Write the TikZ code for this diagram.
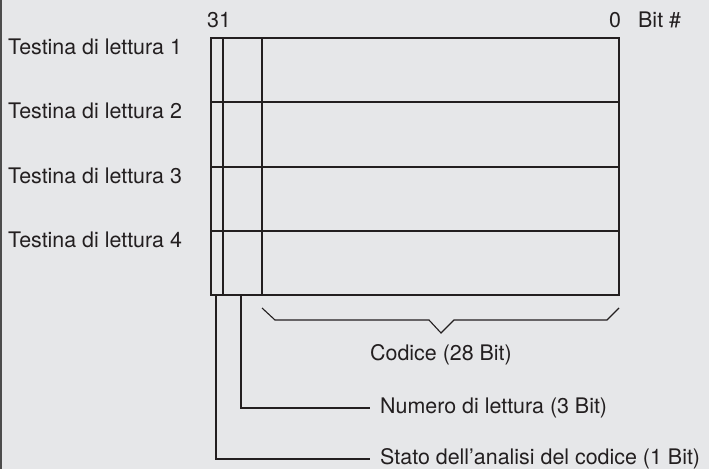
\documentclass[tikz,border=0pt]{standalone}
\usepackage{fontspec}
\setmainfont{TeX Gyre Heros}
\definecolor{bg}{HTML}{E6E7E9}
\definecolor{ink}{HTML}{231F20}
\begin{document}
\begin{tikzpicture}[x=1bp,y=-1bp,
  lbl/.style={font=\fontsize{21.5}{22}\selectfont, text=ink, inner sep=0pt},
  ln/.style={draw=ink, line width=1.1bp}]
\fill[bg] (0,0) rectangle (709,469);
\useasboundingbox (0,0) rectangle (709,469);
\fill[black!70] (0,0) rectangle (1.6,469);
% register box
\coordinate (tl) at (211,38);
\coordinate (br) at (619,295);
\draw[ln] (tl) rectangle (br);
\foreach \y in {102,167,231} \draw[ln] (211,\y) -- (619,\y);
\draw[ln] (223,38) -- (223,295);
\draw[ln] (262,38) -- (262,295);
% labels
\node[lbl, anchor=west] (t1) at (8,47) {Testina di lettura 1};
\node[lbl, anchor=west] (t2) at (8,111) {Testina di lettura 2};
\node[lbl, anchor=west] (t3) at (8,176) {Testina di lettura 3};
\node[lbl, anchor=west] (t4) at (8,240) {Testina di lettura 4};
\node[lbl] (b31) at (219,20) {31};
\node[lbl] (b0) at (615,20) {0};
\node[lbl, anchor=west] (bit) at (638,20) {Bit \#};
% brace
\draw[ln, line join=miter] (262,308) -- (275,320) -- (429,320) -- (441,333) -- (454,320) -- (607,320) -- (619,308);
\node[lbl] (cod) at (441,355) {Codice (28 Bit)};
% leaders
\node[lbl, anchor=west] (num) at (380,408) {Numero di lettura (3 Bit)};
\node[lbl, anchor=west] (sta) at (380,459) {Stato dell’analisi del codice (1 Bit)};
\coordinate (n0) at (241,295);
\coordinate (s0) at (216,295);
\draw[ln] (n0) |- ([xshift=-10bp]num.west);
\draw[ln] (s0) |- ([xshift=-10bp]sta.west);
\end{tikzpicture}
\end{document}
